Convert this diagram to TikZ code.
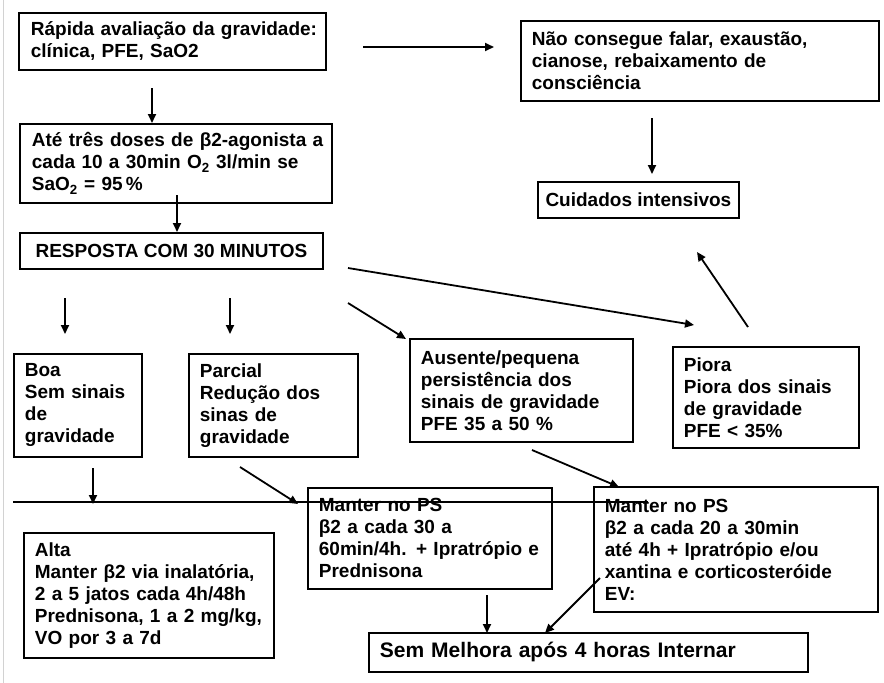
\documentclass[tikz,border=0pt]{standalone}
\usepackage{fontspec}
\setmainfont{Liberation Sans}
\usetikzlibrary{arrows.meta}
\begin{document}
\begin{tikzpicture}[x=1pt,y=-1pt,
  box/.style={draw, line width=1.8pt, anchor=north west, inner xsep=11pt, inner ysep=0pt,
    align=left, font=\fontsize{19}{22}\selectfont\bfseries},
  cbox/.style={draw, line width=1.8pt, anchor=north west, inner sep=0pt,
    align=center, font=\fontsize{19}{22}\selectfont\bfseries},
  arr/.style={line width=1.8pt, -{Triangle[length=9pt,width=8pt]}}]
\useasboundingbox (0,0) rectangle (884,683);
\fill[white] (0,0) rectangle (884,683);
\draw[gray!35, line width=1pt] (3,0) -- (3,683);
% boxes
\node[box, inner xsep=0pt, text width=307pt, minimum height=57pt] (n1) at (18,12)
  {\hspace*{12pt}\mbox{Rápida avaliação da gravidade:}\\ \hspace*{12pt}clínica, PFE, SaO2};
\node[box, inner xsep=0pt, text width=312pt, minimum height=79pt] (n2) at (19,123)
  {\hspace*{12pt}\mbox{Até três doses de β2-agonista a}\\ \hspace*{12pt}cada 10 a 30min O\textsubscript{2} 3l/min se\\ \hspace*{12pt}SaO\textsubscript{2} = 95\,\%};
\node[cbox, minimum width=303pt, minimum height=36pt] (n3) at (19,232)
  {RESPOSTA COM 30 MINUTOS};
\node[box, text width=336pt, minimum height=80pt] (n4) at (520,20)
  {Não consegue falar, exaustão,\\ cianose, rebaixamento de\\ consciência};
\node[cbox, minimum width=201pt, minimum height=36pt] (n5) at (537,181)
  {Cuidados intensivos};
\node[box, text width=106pt, minimum height=103pt] (n6) at (13,353)
  {Boa\\ Sem sinais\\ de\\ gravidade};
\node[box, text width=147pt, minimum height=103pt] (n7) at (188,353)
  {Parcial\\ Redução dos\\ sinas de\\ gravidade};
\node[box, text width=201pt, minimum height=103pt] (n8) at (409,338)
  {Ausente/pequena\\ persistência dos\\ sinais de gravidade\\ PFE 35 a 50 \%};
\node[box, text width=164pt, minimum height=101pt] (n9) at (672,346)
  {Piora\\ Piora dos sinais\\ de gravidade\\ PFE < 35\%};
\node[box, text width=222pt, minimum height=101pt] (n10) at (307,487)
  {Manter no PS\\ β2 a cada 30 a\\ 60min/4h. + Ipratrópio e\\ Prednisona};
\node[box, text width=262pt, minimum height=125pt] (n11) at (593,486)
  {Manter no PS\\ β2 a cada 20 a 30min\\ até 4h + Ipratrópio e/ou\\ xantina e corticosteróide\\ EV:};
\node[box, text width=228pt, minimum height=125pt] (n12) at (23,532)
  {Alta\\ Manter β2 via inalatória,\\ 2 a 5 jatos cada 4h/48h\\ Prednisona, 1 a 2 mg/kg,\\ VO por 3 a 7d};
\node[box, text width=417pt, minimum height=39pt, font=\fontsize{21}{24}\selectfont\bfseries] (n13) at (368,632)
  {Sem Melhora após 4 horas Internar};
% arrow end points
\coordinate (a1s) at (152,88);  \coordinate (a1e) at (152,123);
\coordinate (a2s) at (177,195); \coordinate (a2e) at (177,232);
\coordinate (a3s) at (363,47);  \coordinate (a3e) at (494,47);
\coordinate (a4s) at (652,118); \coordinate (a4e) at (652,174);
\coordinate (a5s) at (348,268); \coordinate (a5e) at (694,325);
\coordinate (a6s) at (748,327); \coordinate (a6e) at (697,252);
\coordinate (a7s) at (65,298);  \coordinate (a7e) at (65,334);
\coordinate (a8s) at (230,298); \coordinate (a8e) at (230,334);
\coordinate (a9s) at (348,303); \coordinate (a9e) at (406,339);
\coordinate (a10s) at (93,468); \coordinate (a10e) at (93,504);
\coordinate (a11s) at (240,467); \coordinate (a11e) at (298,504);
\coordinate (a12s) at (532,450); \coordinate (a12e) at (619,487);
\coordinate (a13s) at (487,595); \coordinate (a13e) at (487,633);
\coordinate (a14s) at (600,578); \coordinate (a14e) at (545,633);
\coordinate (ls) at (13,502); \coordinate (le) at (648,502);
% connectors
\foreach \i in {1,...,14} \draw[arr] (a\i s) -- (a\i e);
\draw[line width=1.8pt] (ls) -- (le);
\end{tikzpicture}
\end{document}
